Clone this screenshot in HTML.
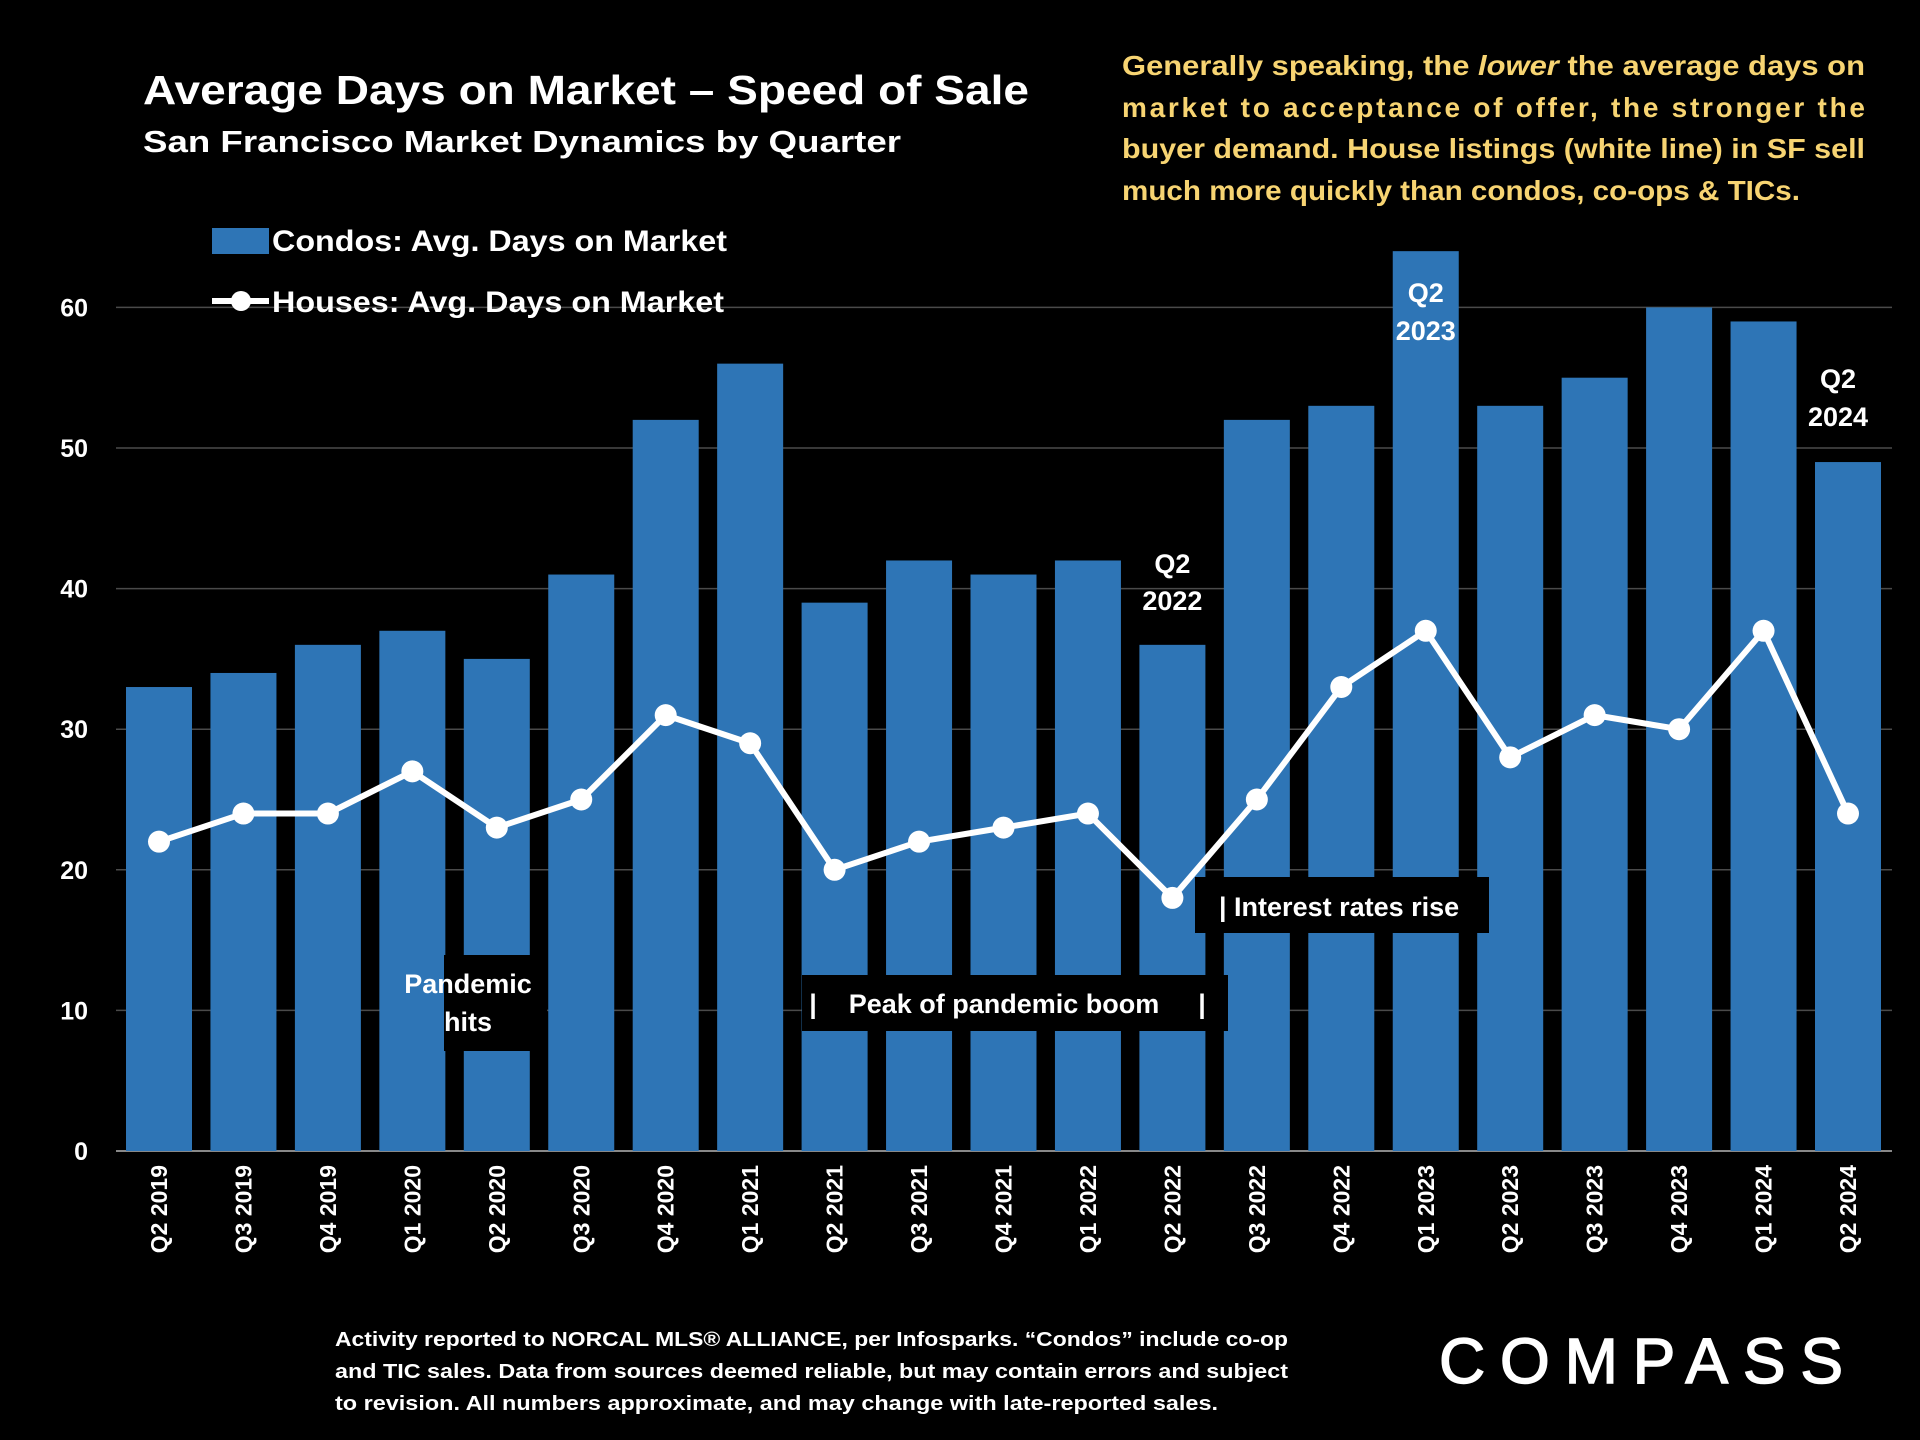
<!DOCTYPE html>
<html><head><meta charset="utf-8">
<style>
html,body{margin:0;padding:0;background:#000;}
svg{display:block;font-family:"Liberation Sans",sans-serif;font-weight:bold;}
</style></head>
<body>
<svg id="chart" width="1920" height="1440" viewBox="0 0 1920 1440" xmlns="http://www.w3.org/2000/svg">
<rect width="1920" height="1440" fill="#000"/>
<text x="143" y="104" fill="#fff" font-size="41" textLength="886" lengthAdjust="spacingAndGlyphs">Average Days on Market – Speed of Sale</text>
<text x="143" y="152" fill="#fff" font-size="31" textLength="758" lengthAdjust="spacingAndGlyphs">San Francisco Market Dynamics by Quarter</text>
<g fill="#f7d472" font-size="28">
<text x="1122" y="75" textLength="743" lengthAdjust="spacingAndGlyphs">Generally speaking, the <tspan font-style="italic">lower</tspan> the average days on</text>
<text x="1122" y="117" textLength="743" lengthAdjust="spacing">market to acceptance of offer, the stronger the</text>
<text x="1122" y="158" textLength="743" lengthAdjust="spacingAndGlyphs">buyer demand.  House listings (white line) in SF sell</text>
<text x="1122" y="200" textLength="678" lengthAdjust="spacingAndGlyphs">much more quickly than condos, co-ops &amp; TICs.</text>
</g>
<g id="grid"></g>
<g id="bars"></g>
<g id="annot"></g>
<g id="line"></g>
<g id="xlabels"></g>
<g>
<rect x="212" y="228" width="57" height="26" fill="#2e75b6"/>
<text x="272" y="251" fill="#fff" font-size="30" textLength="455" lengthAdjust="spacingAndGlyphs">Condos: Avg. Days on Market</text>
<line x1="212" y1="301" x2="269" y2="301" stroke="#fff" stroke-width="6"/>
<circle cx="241" cy="301" r="10" fill="#fff"/>
<text x="272" y="312" fill="#fff" font-size="30" textLength="452" lengthAdjust="spacingAndGlyphs">Houses: Avg. Days on Market</text>
</g>
<g fill="#fff" font-size="20">
<text x="335" y="1346" textLength="953" lengthAdjust="spacingAndGlyphs">Activity reported to NORCAL MLS® ALLIANCE, per Infosparks. “Condos” include co-op</text>
<text x="335" y="1378" textLength="953" lengthAdjust="spacingAndGlyphs">and TIC sales. Data from sources deemed reliable, but may contain errors and subject</text>
<text x="335" y="1410" textLength="883" lengthAdjust="spacingAndGlyphs">to revision. All numbers approximate, and may change with late-reported sales.</text>
</g>
<text x="1439" y="1383" fill="#fff" font-size="64" font-weight="normal" stroke="#fff" stroke-width="1.5" textLength="404" lengthAdjust="spacing">COMPASS</text>
</svg>
<script>
const categories=["Q2 2019","Q3 2019","Q4 2019","Q1 2020","Q2 2020","Q3 2020","Q4 2020","Q1 2021","Q2 2021","Q3 2021","Q4 2021","Q1 2022","Q2 2022","Q3 2022","Q4 2022","Q1 2023","Q2 2023","Q3 2023","Q4 2023","Q1 2024","Q2 2024"];
const condos=[33,34,36,37,35,41,52,56,39,42,41,42,36,52,53,64,53,55,60,59,49];
const houses=[22,24,24,27,23,25,31,29,20,22,23,24,18,25,33,37,28,31,30,37,24];
const yTicks=[0,10,20,30,40,50,60];
const NS="http://www.w3.org/2000/svg";
const y0=1151,yPer=14.06,x0=159,step=84.45,bw=66;
function y(v){return y0-v*yPer;}
function x(i){return x0+i*step;}
function mk(tag,attrs,parent){const e=document.createElementNS(NS,tag);for(const k in attrs)e.setAttribute(k,attrs[k]);parent.appendChild(e);return e;}
const grid=document.getElementById('grid');
yTicks.forEach(t=>{
  const l=mk('line',{x1:116,x2:1892,y1:y(t),y2:y(t),stroke:t===0?'#888':'#4a4a4a','stroke-width':t===0?2:1.5},grid);
  
  
  const tx=mk('text',{x:88,y:y(t)+9,fill:'#fff','font-size':25,'text-anchor':'end'},grid);
  tx.textContent=t;
  
  
});
const bars=document.getElementById('bars');
condos.forEach((v,i)=>{
  const r=mk('rect',{x:x(i)-bw/2,y:y(v),width:bw,height:y(0)-y(v),fill:'#2e75b6'},bars);
  
  
});
const xl=document.getElementById('xlabels');
categories.forEach((c,i)=>{
  const t=mk('text',{x:0,y:0,fill:'#fff','font-size':23,'text-anchor':'end',transform:`translate(${x(i)+8},1165) rotate(-90)`},xl);
  t.textContent=c;
  
  
});
const an=document.getElementById('annot');
function box(x1,y1,w,h,name){const r=mk('rect',{x:x1,y:y1,width:w,height:h,fill:'#000'},an);}
function txt(s,xx,yy,name,anchor){const t=mk('text',{x:xx,y:yy,fill:'#fff','font-size':27,'text-anchor':anchor||'middle'},an);t.textContent=s;}
box(444,955,103,96,'pandemic-box');
txt('Pandemic',468,993,'pandemic-label');txt('hits',468,1031,'pandemic-label-2');
box(802,975,426,56,'peak-boom-box');
txt('|',813,1013,'peak-boom-bar-left');
txt('Peak of pandemic boom',1004,1013,'peak-boom-label');
txt('|',1202,1013,'peak-boom-bar-right');
box(1195,877,294,56,'interest-rates-box');
txt('| Interest rates rise',1219,916,'interest-rates-label','start');
txt('Q2',x(12),573,'q2-2022-label');txt('2022',x(12),610,'q2-2022-label-2');
txt('Q2',x(15),302,'q2-2023-label');txt('2023',x(15),340,'q2-2023-label-2');
txt('Q2',1838,388,'q2-2024-label');txt('2024',1838,426,'q2-2024-label-2');
const lg=document.getElementById('line');
const p=mk('polyline',{points:houses.map((v,i)=>x(i)+','+y(v)).join(' '),fill:'none',stroke:'#fff','stroke-width':6,'stroke-linejoin':'round'},lg);


houses.forEach((v,i)=>{
  const c=mk('circle',{cx:x(i),cy:y(v),r:11,fill:'#fff'},lg);
  
  
});
</script>
</body></html>
